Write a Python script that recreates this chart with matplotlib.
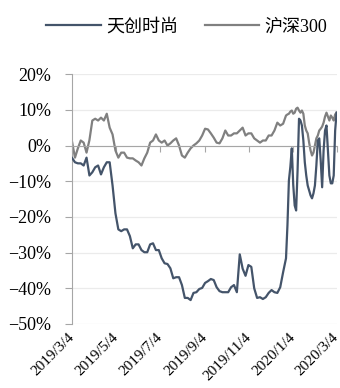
import matplotlib
matplotlib.use('Agg')
import matplotlib.pyplot as plt
from matplotlib.ticker import PercentFormatter
import pandas as pd

# dates: every 4 days until late Dec, then every 2 days
dates = list(pd.date_range('2019-03-04', periods=75, freq='4D')) + \
        list(pd.date_range('2019-12-27', '2020-03-04', freq='2D'))

tianchuang = [
    -3.5, -4.7, -5.0, -5.0, -5.6, -3.4, -8.4, -7.5, -6.1, -5.6,
    -8.1, -6.1, -4.7, -4.7, -11.2, -19.0, -23.5, -24.0, -23.5, -23.5,
    -25.4, -28.8, -27.7, -27.7, -29.3, -29.9, -29.9, -27.7, -27.4, -29.3,
    -29.3, -31.6, -33.0, -33.2, -34.4, -37.2, -36.9, -36.9, -39.1, -42.7,
    -42.7, -43.3, -41.3, -41.1, -40.2, -39.9, -38.5, -38.0, -37.4, -37.7,
    -39.7, -40.8, -41.1, -41.1, -41.1, -39.7, -39.1, -41.1, -30.5, -34.5,
    -36.5, -33.5, -34.0, -40.0, -42.7, -42.5, -43.0, -42.5, -41.3, -40.5,
    -41.1, -41.3, -39.7, -35.5, -31.6,
    -22.3, -9.8, -6.0, -0.8, -11.0, -16.8, -18.2, -7.0, 7.5, 7.0,
    5.6, 1.4, -4.7, -8.4, -11.2, -12.6, -14.0, -14.8, -13.4, -11.2,
    -5.6, 1.4, 2.0, -4.2, -11.7, -1.4, 4.2, 5.6, -1.4, -8.4,
    -10.6, -10.6, -8.4, 4.2, 9.2,
]

hs300 = [
    1.0, -3.4, -0.8, 1.4, 0.8, -2.0, 1.5, 7.0, 7.5, 7.0,
    7.8, 7.0, 8.9, 5.0, 3.1, -1.4, -3.4, -2.0, -2.0, -3.4,
    -3.6, -3.6, -4.2, -4.7, -5.6, -3.6, -2.0, 0.8, 1.4, 3.1,
    1.4, 0.8, 1.4, 0.0, 0.6, 1.4, 2.0, 0.0, -2.8, -3.4,
    -2.0, -0.8, 0.0, 0.6, 1.4, 2.8, 4.7, 4.5, 3.4, 2.2,
    0.8, 0.6, 2.0, 4.2, 2.8, 2.8, 3.4, 3.4, 4.2, 5.0,
    2.8, 3.4, 3.4, 2.0, 1.4, 0.8, 1.4, 1.4, 2.8, 2.8,
    4.2, 6.4, 5.6, 6.1, 8.4,
    8.7, 8.9, 9.5, 9.8, 8.9, 9.2, 10.3, 10.6, 9.8, 9.2,
    9.8, 8.9, 5.6, 4.2, 3.4, 0.8, -1.4, -2.8, -2.0, 0.0,
    2.0, 2.8, 4.2, 4.7, 5.3, 6.4, 8.1, 9.2, 8.1, 7.0,
    8.4, 7.8, 7.0, 8.7, 9.2,
]

tick_dates = ['2019-03-04', '2019-05-04', '2019-07-04', '2019-09-04',
              '2019-11-04', '2020-01-04', '2020-03-04']
tick_labels = ['2019/3/4', '2019/5/4', '2019/7/4', '2019/9/4',
               '2019/11/4', '2020/1/4', '2020/3/4']

plt.rcParams['font.family'] = ['Liberation Serif', 'Noto Sans CJK SC']

fig = plt.figure(figsize=(3.4, 3.88), dpi=100)
ax = fig.add_axes([0.212, 0.165, 0.778, 0.644])

l1, = ax.plot(dates, [v / 100 for v in tianchuang], color='#44546a', lw=1.6, label='天创时尚', zorder=3)
l2, = ax.plot(dates, [v / 100 for v in hs300], color='#808080', lw=1.6, label='沪深300', zorder=2)

ax.set_ylim(-0.5, 0.2)
ax.set_yticks([i / 10 for i in range(-5, 3)])
ax.yaxis.set_major_formatter(PercentFormatter(1.0, decimals=0))
ax.grid(axis='y', color='#ebebeb', lw=0.9)
ax.set_axisbelow(True)

xt = pd.to_datetime(tick_dates)
ax.set_xlim(xt[0], xt[-1])
ax.set_xticks(xt)

for s in ['top', 'right']:
    ax.spines[s].set_visible(False)
ax.spines['left'].set_color('#a6a6a6')
ax.spines['bottom'].set_position(('data', 0))
ax.spines['bottom'].set_color('#a6a6a6')
ax.tick_params(axis='x', direction='out', length=4, color='#a6a6a6', labelbottom=False)
ax.tick_params(axis='y', direction='out', length=5, color='#a6a6a6', labelsize=13, pad=10)

sec = ax.secondary_xaxis('bottom')
sec.set_xticks(xt)
sec.set_xticklabels(tick_labels, rotation=45, ha='right', va='center',
                    rotation_mode='anchor', fontsize=11)
sec.tick_params(length=0, pad=8)
sec.spines['bottom'].set_visible(False)

fig.legend(handles=[l1, l2], loc='center', bbox_to_anchor=(0.55, 0.93), ncol=2,
           frameon=False, fontsize=13, handlelength=3.0, handletextpad=0.3,
           columnspacing=1.5)

fig.savefig('out.png', dpi=100)
